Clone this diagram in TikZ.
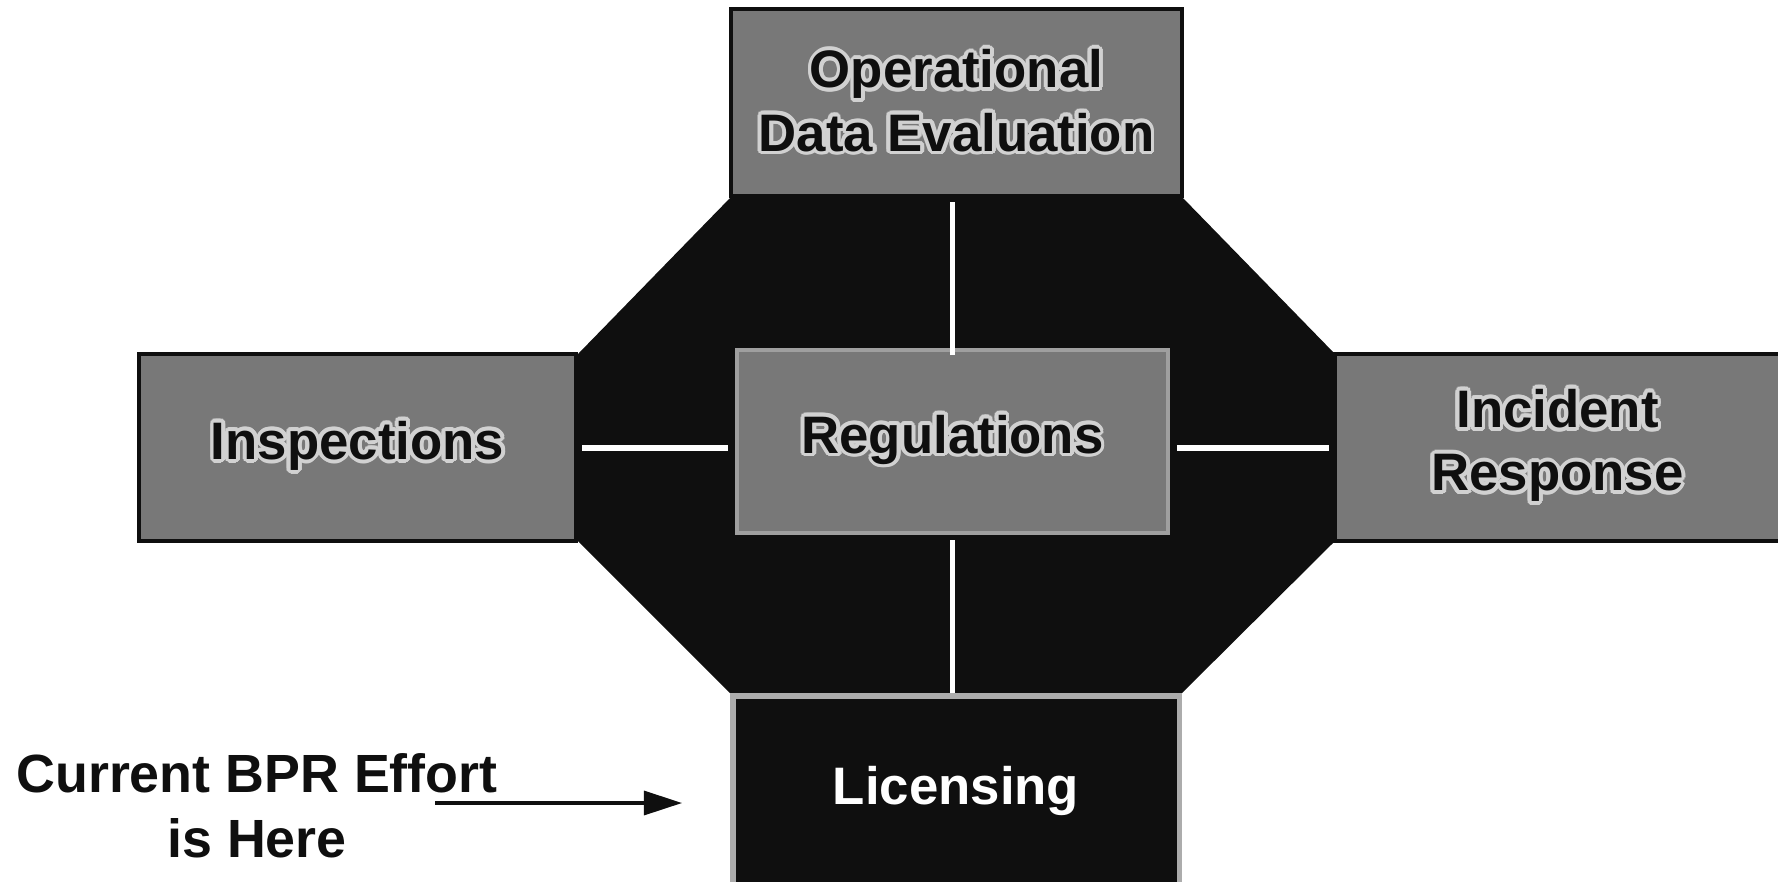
\documentclass[tikz,border=0pt]{standalone}
\usepackage{fontspec}
\setmainfont{Liberation Sans}
\usepackage{contour}
\usetikzlibrary{arrows.meta}
\contourlength{1.1pt}
\definecolor{boxgray}{gray}{0.47}
\definecolor{ink}{gray}{0.06}
\definecolor{glow}{gray}{0.82}
\newcommand{\glowtext}[1]{\contour{glow}{#1}}
\tikzset{
  every node/.style={inner sep=0pt, align=center},
  boxfont/.style={font=\bfseries\fontsize{15}{18}\selectfont},
  gbox/.style={draw=ink, line width=1.3pt, fill=boxgray, text=ink, boxfont},
  rbox/.style={draw=gray!75, line width=1pt, fill=boxgray, text=ink, boxfont},
  lbox/.style={draw=gray!65, line width=1.5pt, fill=ink, text=white, boxfont},
  conn/.style={draw=white, line width=1.7pt},
  pointer/.style={draw=ink, line width=0.9pt, -{Triangle[length=0.38cm, width=0.24cm]}},
  note/.style={text=ink, font=\bfseries\fontsize{15.3}{18.6}\selectfont}
}
\begin{document}
\begin{tikzpicture}[x=0.01cm, y=-0.01cm]
  \useasboundingbox[fill=white] (0,0) rectangle (1778,881);

  % black octagonal hub behind the boxes
  \fill[ink] (731,197) -- (1182,197) -- (1335,354) -- (1335,541)
    -- (1179,696) -- (733,696) -- (578,541) -- (578,354) -- cycle;

  % surrounding process boxes, labels with a light glow
  \node[gbox, minimum width=4.51cm, minimum height=1.87cm] (ode) at (956.5,102.5)
    {\glowtext{Operational}\\\glowtext{Data Evaluation}};
  \node[gbox, minimum width=4.37cm, minimum height=1.87cm] (insp) at (357.5,447.5)
    {\glowtext{Inspections}};
  \node[rbox, minimum width=4.31cm, minimum height=1.83cm] (reg) at (952.5,441.5)
    {\glowtext{Regulations}};
  \node[gbox, minimum width=4.45cm, minimum height=1.87cm] (ir) at (1557.5,447.5)
    {\glowtext{Incident}\\\glowtext{Response}};
  \node[lbox, minimum width=4.46cm, minimum height=1.89cm] (lic) at (956,790.5)
    {Licensing};

  % white links from the hub to each box
  \draw[conn] ([yshift=-2pt]reg.north) -- ([yshift=-1pt]reg.north |- ode.south);
  \draw[conn] ([yshift=-1.5pt]reg.south) -- (reg.south |- lic.north);
  \draw[conn] ([xshift=-2pt]reg.west |- insp.east) -- ([xshift=1pt]insp.east);
  \draw[conn] ([xshift=2pt]reg.east |- ir.west) -- ([xshift=-1pt]ir.west);

  % annotation with its pointer
  \node[note] (bpr) at (257,806) {Current BPR Effort\\is Here};
  \coordinate (ptrS) at (435,803);
  \coordinate (ptrE) at (682,803);
  \draw[pointer] (ptrS) -- (ptrE);
\end{tikzpicture}
\end{document}
